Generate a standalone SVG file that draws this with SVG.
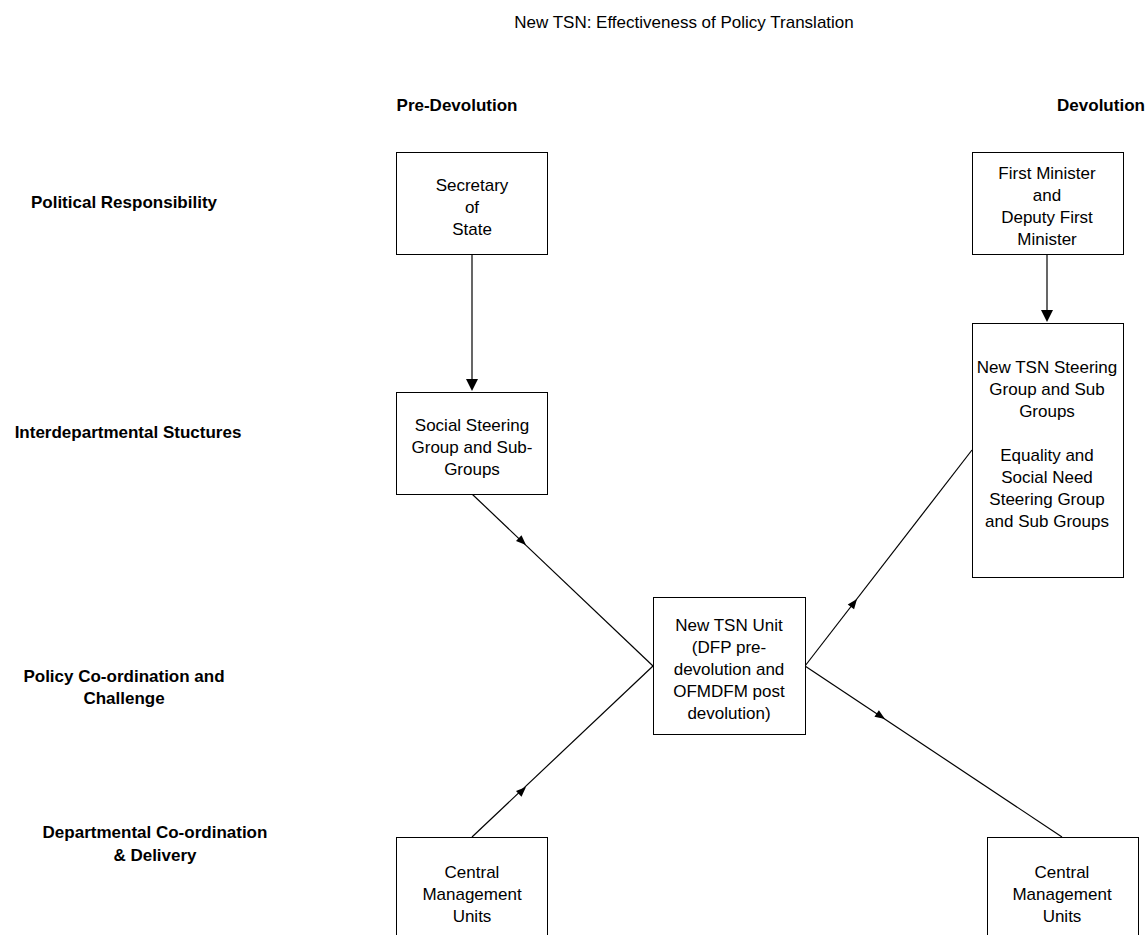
<svg xmlns="http://www.w3.org/2000/svg" width="1146" height="935" viewBox="0 0 1146 935">
<style>
.t{font-family:"Liberation Sans",Arial,sans-serif;font-size:17px;fill:#000;text-anchor:middle}
.b{font-family:"Liberation Sans",Arial,sans-serif;font-size:17px;font-weight:bold;fill:#000;text-anchor:middle}
.h{font-family:"Liberation Sans",Arial,sans-serif;font-size:17px;fill:#000;text-anchor:middle}
.box{fill:#fff;stroke:#000;stroke-width:1}
.ln{stroke:#000;stroke-width:1.2;fill:none}
</style>
<rect width="1146" height="935" fill="#fff"/>
<text class="h" x="684" y="28">New TSN: Effectiveness of Policy Translation</text>
<text class="b" x="457" y="111">Pre-Devolution</text>
<text class="b" x="1101" y="111">Devolution</text>
<text class="b" x="124" y="208">Political Responsibility</text>
<text class="b" x="128" y="438">Interdepartmental Stuctures</text>
<text class="b" x="124" y="682">Policy Co-ordination and</text>
<text class="b" x="124" y="704">Challenge</text>
<text class="b" x="155" y="838">Departmental Co-ordination</text>
<text class="b" x="155" y="861">&amp; Delivery</text>
<g id="connectors">
<line class="ln" x1="472" y1="254" x2="472" y2="380"/>
<polygon points="466,379 478,379 472,391"/>
<line class="ln" x1="1047" y1="254" x2="1047" y2="311"/>
<polygon points="1041,310 1053,310 1047,322"/>
<line class="ln" x1="472" y1="494" x2="653" y2="666"/>
<polygon points="0,0 -10,-4 -10,4" transform="translate(526,545) rotate(43.5)"/>
<line class="ln" x1="472" y1="837" x2="653" y2="666"/>
<polygon points="0,0 -10,-4 -10,4" transform="translate(526,787) rotate(-43.4)"/>
<line class="ln" x1="805" y1="666" x2="972" y2="450"/>
<polygon points="0,0 -10,-4 -10,4" transform="translate(857,599) rotate(-52.3)"/>
<line class="ln" x1="805" y1="666" x2="1062" y2="837"/>
<polygon points="0,0 -10,-4 -10,4" transform="translate(885,719) rotate(33.6)"/>
</g>
<g id="secretary">
<rect class="box" x="396.5" y="152.5" width="151" height="102"/>
<text class="t" x="472" y="191">Secretary</text>
<text class="t" x="472" y="213">of</text>
<text class="t" x="472" y="235">State</text>
</g>
<g id="social">
<rect class="box" x="396.5" y="392.5" width="151" height="102"/>
<text class="t" x="472" y="431">Social Steering</text>
<text class="t" x="472" y="453">Group and Sub-</text>
<text class="t" x="472" y="475">Groups</text>
</g>
<g id="firstminister">
<rect class="box" x="972.5" y="152.5" width="151" height="102"/>
<text class="t" x="1047" y="179">First Minister</text>
<text class="t" x="1047" y="201">and</text>
<text class="t" x="1047" y="223">Deputy First</text>
<text class="t" x="1047" y="245">Minister</text>
</g>
<g id="steering">
<rect class="box" x="972.5" y="323.5" width="151" height="254"/>
<text class="t" x="1047" y="373">New TSN Steering</text>
<text class="t" x="1047" y="395">Group and Sub</text>
<text class="t" x="1047" y="417">Groups</text>
<text class="t" x="1047" y="461">Equality and</text>
<text class="t" x="1047" y="483">Social Need</text>
<text class="t" x="1047" y="505">Steering Group</text>
<text class="t" x="1047" y="527">and Sub Groups</text>
</g>
<g id="unit">
<rect class="box" x="653.5" y="597.5" width="152" height="137"/>
<text class="t" x="729" y="631">New TSN Unit</text>
<text class="t" x="729" y="653">(DFP pre-</text>
<text class="t" x="729" y="675">devolution and</text>
<text class="t" x="729" y="697">OFMDFM post</text>
<text class="t" x="729" y="719">devolution)</text>
</g>
<g id="cmu-left">
<rect class="box" x="396.5" y="837.5" width="151" height="110"/>
<text class="t" x="472" y="878">Central</text>
<text class="t" x="472" y="900">Management</text>
<text class="t" x="472" y="922">Units</text>
</g>
<g id="cmu-right">
<rect class="box" x="987.5" y="837.5" width="151" height="110"/>
<text class="t" x="1062" y="878">Central</text>
<text class="t" x="1062" y="900">Management</text>
<text class="t" x="1062" y="922">Units</text>
</g>
</svg>
